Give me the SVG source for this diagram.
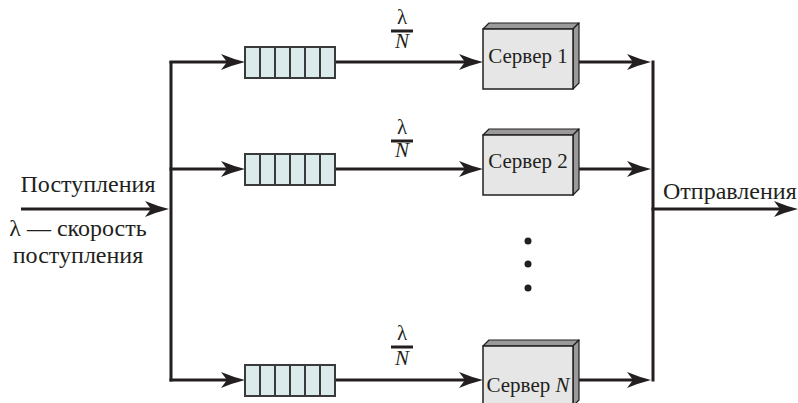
<svg xmlns="http://www.w3.org/2000/svg" width="798" height="403" viewBox="0 0 798 403">
<style>
  .ln{stroke:#231f20;stroke-width:3;fill:none}
  .arr{stroke:#231f20;stroke-width:3;fill:none;marker-end:url(#ah)}
  .q{fill:#dbeaea;stroke:#3a3a3a;stroke-width:2}
  .qd{stroke:#3a3a3a;stroke-width:2}
  .front{fill:#e6e6e6;stroke:#231f20;stroke-width:1.5}
  .side{fill:#9a9a9a;stroke:#231f20;stroke-width:1.2;stroke-linejoin:round}
  .t{font-family:"Liberation Serif","Times New Roman",serif;font-size:21px;fill:#231f20}
  .L{font-family:"Liberation Serif","Times New Roman",serif;font-size:24px;fill:#231f20}
  .f{font-family:"Liberation Serif","Times New Roman",serif;font-size:21px;fill:#231f20;text-anchor:middle}
  .bar{stroke:#231f20;stroke-width:3}
  .dot{fill:#231f20}
</style>
<defs>
  <marker id="ah" markerUnits="userSpaceOnUse" viewBox="0 -9 26 18" refX="14" refY="0" markerWidth="26" markerHeight="18" orient="auto">
    <path d="M0,-8 Q12,-3 24,0 Q12,3 0,8 L6,0 Z" fill="#231f20"/>
  </marker>
  <g id="queue">
    <rect class="q" x="0" y="-15" width="90" height="31"/>
    <line class="qd" x1="15" y1="-15" x2="15" y2="16"/>
    <line class="qd" x1="30" y1="-15" x2="30" y2="16"/>
    <line class="qd" x1="45" y1="-15" x2="45" y2="16"/>
    <line class="qd" x1="60" y1="-15" x2="60" y2="16"/>
    <line class="qd" x1="75" y1="-15" x2="75" y2="16"/>
  </g>
  <g id="box">
    <path class="side" d="M0,0 L6,-6 L96,-6 L90,0 Z"/>
    <path class="side" d="M90,0 L96,-6 L96,54 L90,60 Z"/>
    <rect class="front" x="0" y="0" width="90" height="60"/>
  </g>
</defs>

<g id="connectors">
  <line class="arr" x1="21" y1="209" x2="159" y2="209"/>
  <line class="ln" x1="171" y1="61" x2="171" y2="381.5"/>
  <line class="arr" x1="169.5" y1="62" x2="235" y2="62"/>
  <line class="arr" x1="169.5" y1="169" x2="235" y2="169"/>
  <line class="arr" x1="169.5" y1="380" x2="235" y2="380"/>
  <line class="arr" x1="335" y1="62" x2="473" y2="62"/>
  <line class="arr" x1="335" y1="169" x2="473" y2="169"/>
  <line class="arr" x1="335" y1="380" x2="473" y2="380"/>
  <line class="arr" x1="579" y1="62" x2="641" y2="62"/>
  <line class="arr" x1="579" y1="169" x2="641" y2="169"/>
  <line class="arr" x1="579" y1="380" x2="641" y2="380"/>
  <line class="ln" x1="653" y1="60.5" x2="653" y2="381.5"/>
  <line class="arr" x1="651.5" y1="209" x2="788" y2="209"/>
</g>

<g id="input-label">
  <text class="L" x="88" y="192" text-anchor="middle">Поступления</text>
  <text class="L" x="78" y="236" text-anchor="middle">λ — скорость</text>
  <text class="L" x="78" y="263" text-anchor="middle">поступления</text>
</g>

<g id="queue1"><use href="#queue" x="245" y="62"/></g>
<g id="queue2"><use href="#queue" x="245" y="169"/></g>
<g id="queueN"><use href="#queue" x="245" y="380"/></g>

<g id="rate1">
  <text class="f" x="402" y="24">λ</text>
  <line class="bar" x1="391" y1="31" x2="413" y2="31"/>
  <text class="f" x="402" y="48" font-style="italic">N</text>
</g>
<g id="rate2">
  <text class="f" x="402" y="134">λ</text>
  <line class="bar" x1="391" y1="141" x2="413" y2="141"/>
  <text class="f" x="402" y="157" font-style="italic">N</text>
</g>
<g id="rateN">
  <text class="f" x="402" y="340">λ</text>
  <line class="bar" x1="391" y1="347" x2="413" y2="347"/>
  <text class="f" x="402" y="365" font-style="italic">N</text>
</g>

<g id="server1">
  <use href="#box" x="483" y="29"/>
  <text class="t" x="528" y="63" text-anchor="middle">Сервер 1</text>
</g>
<g id="server2">
  <use href="#box" x="483" y="135"/>
  <text class="t" x="528" y="168" text-anchor="middle">Сервер 2</text>
</g>
<g id="serverN">
  <use href="#box" x="483" y="346"/>
  <text class="t" x="528" y="392" text-anchor="middle">Сервер <tspan font-style="italic">N</tspan></text>
</g>

<g id="dots">
  <circle class="dot" cx="528" cy="241" r="3.5"/>
  <circle class="dot" cx="528" cy="264" r="3.5"/>
  <circle class="dot" cx="528" cy="288" r="3.5"/>
</g>

<g id="output-label">
  <text class="L" x="663" y="199">Отправления</text>
</g>
</svg>
